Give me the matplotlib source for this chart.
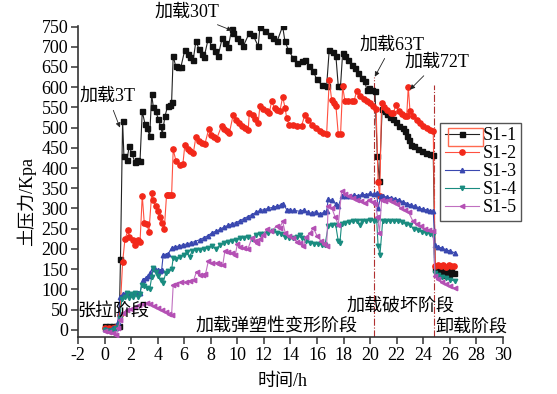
import matplotlib
matplotlib.use('Agg')
import matplotlib.pyplot as plt
from matplotlib.patches import Rectangle

plt.rcParams['font.family'] = ['Liberation Serif', 'Noto Sans CJK SC']
plt.rcParams['font.size'] = 13
plt.rcParams['axes.unicode_minus'] = False

# S1-1 (black)
t1 = [0.0, 0.3, 0.6, 0.9, 1.1, 1.2, 1.36, 1.46, 1.69, 1.86, 2.04, 2.29, 2.48, 2.67, 2.84, 3.04, 3.2, 3.4,
      3.55, 3.67, 3.85, 4.05, 4.22, 4.35, 4.55, 4.75, 4.92, 5.05, 5.17, 5.35, 5.55, 5.75, 6.05, 6.26, 6.43,
      6.68, 6.88, 7.1, 7.31, 7.5, 7.81, 8.06, 8.3, 8.56, 8.86, 9.06, 9.32, 9.57, 9.69, 9.94, 10.2, 10.44,
      10.9, 11.2, 11.57, 11.7, 12.08, 12.46, 12.7, 13.0, 13.41, 13.58, 13.83, 14.2, 14.47, 14.84, 15.09,
      15.41, 15.72, 15.97, 16.35, 16.72, 16.92, 17.18, 17.42, 17.6, 17.77, 17.93, 18.1, 18.35, 18.6, 18.86,
      19.1, 19.36, 19.6, 19.74, 19.93, 20.11, 20.36, 20.54, 20.69, 20.9, 21.1, 21.3, 21.5, 21.7, 21.95,
      22.2, 22.45, 22.62, 22.8, 22.9, 23.1, 23.3, 23.6, 23.9, 24.2, 24.5, 24.75, 24.9, 25.1, 25.3, 25.5,
      25.7, 25.9, 26.1, 26.3]
p1 = [8, 8, 8, 8, 10, 175, 516, 429, 421, 454, 437, 414, 420, 417, 540, 510, 499, 480,
      582, 551, 540, 522, 503, 485, 528, 553, 557, 563, 678, 652, 650, 650, 693, 681, 675,
      668, 714, 695, 683, 675, 720, 702, 690, 678, 722, 710, 700, 743, 733, 722, 714, 701,
      734, 728, 701, 749, 739, 730, 722, 714, 751, 714, 693, 672, 660, 664, 668,
      652, 640, 619, 606, 602, 693, 686, 677, 602, 604, 685, 677, 668, 656, 648,
      635, 623, 615, 594, 598, 592, 590, 429, 367, 545, 540, 533, 527, 522, 513,
      505, 498, 491, 480, 470, 458, 455, 448, 443, 438, 434, 431, 150, 140, 148, 135,
      145, 138, 150, 140]

# S1-2 (red)
t2 = [0.0, 0.3, 0.6, 0.9, 1.16, 1.36, 1.54, 1.78, 1.86, 2.12, 2.29, 2.49, 2.67, 2.84, 2.99, 3.2, 3.34,
      3.55, 3.67, 3.85, 4.0, 4.17, 4.35, 4.5, 4.67, 4.8, 4.92, 5.05, 5.17, 5.38, 5.68, 5.9, 6.05, 6.26,
      6.45, 6.68, 6.88, 7.1, 7.31, 7.56, 7.85, 8.05, 8.25, 8.44, 8.82, 9.0, 9.2, 9.4, 9.69, 9.9, 10.1,
      10.35, 10.6, 10.82, 10.9, 11.15, 11.35, 11.57, 11.7, 11.95, 12.2, 12.4, 12.58, 12.8, 13.0, 13.2,
      13.41, 13.6, 13.71, 13.9, 14.2, 14.5, 14.84, 15.09, 15.3, 15.6, 15.9, 16.2, 16.45, 16.72, 16.92,
      17.1, 17.3, 17.42, 17.6, 17.77, 17.93, 18.1, 18.35, 18.6, 18.78, 18.98, 19.2, 19.5, 19.75, 19.98,
      20.23, 20.45, 20.6, 20.72, 20.86, 21.05, 21.3, 21.55, 21.74, 21.95, 22.15, 22.4, 22.6, 22.75,
      22.87, 23.0, 23.25, 23.5, 23.75, 24.0, 24.25, 24.5, 24.75, 24.9, 25.1, 25.3, 25.5, 25.7, 25.9,
      26.1, 26.3]
p2 = [5, 5, 5, 6, 37, 167, 225, 246, 230, 223, 210, 223, 216, 332, 264, 262, 241,
      337, 322, 305, 293, 280, 264, 249, 334, 334, 334, 334, 446, 417, 408, 410, 458, 448,
      442, 436, 477, 466, 462, 460, 497, 482, 476, 472, 505, 497, 491, 487, 532, 520, 512,
      505, 500, 495, 536, 530, 522, 512, 554, 545, 540, 535, 565, 548, 543, 540,
      576, 548, 524, 507, 506, 505, 505, 532, 520, 507, 500, 492, 487, 483, 617,
      569, 560, 554, 483, 483, 602, 565, 565, 566, 565, 590, 578, 570, 565, 561,
      553, 545, 365, 330, 561, 550, 543, 537, 536, 557, 540, 533, 528, 528,
      601, 540, 528, 520, 512, 505, 500, 495, 491, 158, 160, 157, 160, 156, 160,
      158, 158]

# S1-3 (blue)
t3 = [0.0, 0.3, 0.6, 0.9, 1.0, 1.16, 1.4, 1.6, 1.9, 2.2, 2.5, 2.67, 2.87, 3.1, 3.3, 3.42, 3.62, 3.8,
      4.0, 4.2, 4.3, 4.42, 4.6, 4.8, 5.05, 5.3, 5.6, 5.9, 6.2, 6.5, 6.8, 7.18, 7.5, 7.8, 8.1, 8.4, 8.69,
      9.0, 9.3, 9.6, 9.9, 10.2, 10.5, 10.8, 11.1, 11.4, 11.7, 12.0, 12.3, 12.7, 13.0, 13.3, 13.46, 13.71,
      14.0, 14.3, 14.7, 15.0, 15.3, 15.6, 15.9, 16.2, 16.5, 16.72, 16.84, 17.1, 17.4, 17.6, 17.85, 18.2,
      18.5, 18.8, 19.1, 19.4, 19.7, 20.0, 20.3, 20.49, 20.6, 20.8, 21.0, 21.3, 21.6, 21.9, 22.2, 22.5,
      22.8, 23.1, 23.4, 23.7, 24.0, 24.3, 24.5, 24.75, 24.88, 25.1, 25.4, 25.7, 26.0, 26.38]
p3 = [2, 0, 3, 5, 20, 82, 88, 92, 88, 90, 91, 91, 124, 128, 133, 140, 153, 150,
      148, 146, 148, 186, 186, 188, 202, 205, 207, 210, 212, 215, 218, 223, 228, 233, 240, 244, 248,
      254, 258, 262, 265, 270, 275, 280, 285, 290, 295, 297, 300, 303, 306, 309, 312, 297,
      296, 295, 293, 296, 290, 288, 292, 286, 290, 293, 323, 320, 312, 305, 330, 332,
      330, 333, 331, 335, 334, 337, 335, 338, 300, 332, 330, 328, 326, 324, 320, 316,
      312, 308, 305, 301, 298, 296, 294, 293, 210, 205, 202, 198, 195, 190]

# S1-4 (teal)
t4 = [0.0, 0.3, 0.6, 0.9, 1.16, 1.3, 1.54, 1.7, 1.85, 2.0, 2.15, 2.3, 2.5, 2.67, 2.79, 3.0, 3.2, 3.4,
      3.55, 3.67, 3.85, 4.05, 4.25, 4.42, 4.6, 4.8, 5.05, 5.17, 5.4, 5.7, 5.95, 6.2, 6.4, 6.6, 6.9, 7.18,
      7.5, 7.8, 8.1, 8.4, 8.7, 9.0, 9.3, 9.6, 9.9, 10.2, 10.5, 10.8, 11.1, 11.4, 11.7, 12.0, 12.3, 12.7,
      13.0, 13.3, 13.6, 13.9, 14.2, 14.5, 14.7, 14.9, 15.2, 15.5, 15.8, 16.1, 16.4, 16.6, 16.84, 17.1,
      17.4, 17.6, 17.72, 17.85, 18.1, 18.4, 18.7, 19.0, 19.2, 19.4, 19.7, 20.0, 20.3, 20.49, 20.6, 20.74,
      20.94, 21.2, 21.5, 21.8, 22.1, 22.4, 22.7, 23.0, 23.3, 23.6, 23.9, 24.2, 24.5, 24.75, 24.88, 25.1,
      25.4, 25.7, 26.0, 26.38]
p4 = [0, -2, 0, 3, 30, 75, 82, 90, 78, 88, 80, 90, 82, 88, 111, 108, 103, 100,
      130, 153, 142, 132, 122, 116, 140, 145, 149, 177, 175, 180, 186, 192, 180, 195, 198, 198,
      200, 203, 208, 200, 210, 214, 218, 220, 223, 226, 228, 230, 225, 235, 237, 238, 240, 243,
      240, 237, 230, 228, 226, 230, 235, 227, 220, 215, 212, 212, 210, 210, 256, 258,
      260, 219, 215, 262, 264, 266, 268, 270, 260, 268, 270, 272, 270, 272, 206, 186,
      268, 270, 268, 270, 268, 266, 262, 258, 250, 246, 242, 239, 237, 235, 140, 135,
      130, 128, 124, 120]

# S1-5 (magenta)
t5 = [0.0, 0.3, 0.6, 0.9, 1.05, 1.2, 1.41, 1.7, 2.0, 2.3, 2.6, 2.9, 3.17, 3.4, 3.7, 4.0, 4.3, 4.6,
      4.85, 5.05, 5.17, 5.4, 5.78, 6.1, 6.4, 6.7, 6.93, 7.18, 7.4, 7.6, 7.81, 8.1, 8.44, 8.6, 8.9, 9.06,
      9.3, 9.6, 9.85, 10.0, 10.2, 10.5, 10.8, 11.1, 11.3, 11.45, 11.7, 11.95, 12.2, 12.5, 12.96, 13.2,
      13.41, 13.6, 13.9, 14.2, 14.5, 14.7, 14.96, 15.2, 15.5, 15.72, 16.0, 16.3, 16.5, 16.72, 16.84,
      17.1, 17.35, 17.6, 17.85, 18.1, 18.4, 18.7, 19.0, 19.3, 19.6, 19.9, 20.2, 20.4, 20.55, 20.7, 20.86,
      21.1, 21.4, 21.7, 22.0, 22.3, 22.6, 22.9, 23.2, 23.5, 23.8, 24.1, 24.4, 24.75, 24.88, 25.1, 25.4,
      25.7, 26.0, 26.38]
p5 = [-2, -5, -8, -12, 4, 25, 41, 48, 52, 56, 60, 64, 66, 63, 58, 53, 48, 43,
      40, 37, 111, 113, 119, 117, 120, 122, 144, 136, 135, 137, 169, 165, 165, 162, 160, 194,
      192, 190, 186, 212, 205, 202, 200, 228, 220, 214, 225, 235, 248, 243, 256, 252,
      268, 240, 232, 226, 218, 215, 206, 230, 240, 252, 232, 220, 212, 206, 305,
      302, 280, 260, 342, 336, 330, 325, 322, 318, 314, 320, 316, 312, 280, 240, 320,
      318, 320, 316, 312, 300, 296, 290, 270, 262, 256, 250, 247, 243, 132, 125, 118,
      112, 107, 103]

series = [
    (t1, p1, 'S1-1', '#111111', '#222222', 's', 3.6),
    (t2, p2, 'S1-2', '#f2281a', '#ff5040', 'o', 3.8),
    (t3, p3, 'S1-3', '#3a48b0', '#3a48b0', '^', 3.2),
    (t4, p4, 'S1-4', '#1a8c80', '#1a8c80', 'v', 3.2),
    (t5, p5, 'S1-5', '#b450b4', '#c070c0', '<', 3.2),
]

stage_bounds = [20.3, 24.8]
stage_tops = [626, 606]

fig = plt.figure(figsize=(5.57, 3.94), dpi=100)
ax = fig.add_axes([0.140, 0.1447, 0.763, 0.79])

for t, p, name, mc, lc, mk, ms in series:
    ax.plot(t, p, color=lc, lw=0.8, marker=mk, ms=ms, mfc=mc, mec=mc, label=name, zorder=3)

ax.vlines(stage_bounds, -18, stage_tops, colors='#b03030', linestyles='dashdot', lw=0.8, zorder=2)

ax.set_xlim(-2, 30)
ax.set_ylim(-18, 752)
ax.set_xticks(range(-2, 31, 2))
ax.set_yticks(range(0, 751, 50))
for s in ['top', 'right']:
    ax.spines[s].set_visible(False)
for s in ['left', 'bottom']:
    ax.spines[s].set_linewidth(1.2)
    ax.spines[s].set_color('#333333')
ax.tick_params(direction='out', length=5, width=1.1, color='#333333', labelsize=13, pad=2)

ax.set_xlabel('时间/h', fontsize=13)
ax.set_ylabel('土压力/Kpa', fontsize=13)
ax.xaxis.set_label_coords(0.482, -0.116)
ax.yaxis.set_label_coords(-0.099, 0.434)

arrow = dict(arrowstyle='-|>', color='#222222', lw=0.6, mutation_scale=7, shrinkB=0)
ax.annotate('加载3T', xy=(1.16, 500), xytext=(0.26, 577), ha='center', va='center',
            arrowprops=arrow, annotation_clip=False)
ax.annotate('加载30T', xy=(9.6, 740), xytext=(6.2, 785), ha='center', va='center',
            arrowprops=arrow, annotation_clip=False)
ax.annotate('加载63T', xy=(20.35, 626), xytext=(21.65, 705), ha='center', va='center',
            arrowprops=arrow, annotation_clip=False)
ax.annotate('加载72T', xy=(23.0, 594), xytext=(25.03, 661), ha='center', va='center',
            arrowprops=arrow, annotation_clip=False)

ax.text(0.7, 45, '张拉阶段', ha='center', va='center', fontsize=13)
ax.text(12.95, 7, '加载弹塑性变形阶段', ha='center', va='center', fontsize=13)
ax.text(22.26, 59, '加载破坏阶段', ha='center', va='center', fontsize=13)
ax.text(27.6, 7, '卸载阶段', ha='center', va='center', fontsize=13)

leg = ax.legend(loc='upper left', bbox_to_anchor=(0.790, 0.688), bbox_transform=fig.transFigure,
                borderaxespad=0, fancybox=False, edgecolor='#555555', fontsize=13,
                handlelength=1.9, handletextpad=0.2, labelspacing=0.05, borderpad=0.25,
                numpoints=1, framealpha=1)
leg.get_frame().set_linewidth(1.0)

fig.add_artist(Rectangle((448 / 557, 1 - 146 / 394), 35 / 557, 18 / 394, transform=fig.transFigure,
                         fill=False, edgecolor='#ff6a50', lw=1.0, zorder=10))

plt.savefig('out.png', dpi=100)
